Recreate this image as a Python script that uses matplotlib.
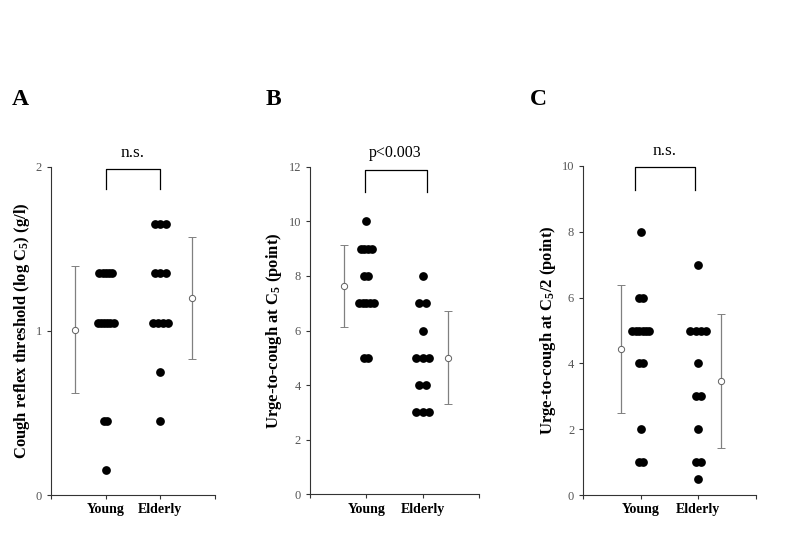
import numpy as np
import matplotlib.pyplot as plt

plt.rcParams['font.family'] = ['Liberation Serif', 'DejaVu Serif']
plt.rcParams['mathtext.fontset'] = 'custom'
plt.rcParams['mathtext.rm'] = 'Liberation Serif:bold'
plt.rcParams['mathtext.default'] = 'rm'

groups = ["Young", "Elderly"]

# panel A: cough reflex threshold, log C5 (g/l)
a_young = [1.35] * 5 + [1.05] * 6 + [0.45] * 2 + [0.15]
a_elderly = [1.65] * 3 + [1.35] * 3 + [1.05] * 4 + [0.75, 0.45]

# panel B: urge-to-cough at C5 (point)
b_young = [10] + [9] * 4 + [8] * 2 + [7] * 5 + [5] * 2
b_elderly = [8, 7, 7, 6, 5, 5, 5, 4, 4, 3, 3, 3]

# panel C: urge-to-cough at C5/2 (point)
c_young = [8, 6, 6] + [5] * 6 + [4, 4, 2, 1, 1]
c_elderly = [7, 5, 5, 5, 5, 4, 3, 3, 2, 1, 1, 0.5]

panels = [
    dict(letter="A", young=a_young, elderly=a_elderly, ymax=2, yticks=[0, 1, 2],
         ylabel="Cough reflex threshold (log C$_5$) (g/l)", note="n.s.", note_size=12.5,
         spacing=(0.058, 0.095), mean_x=(0.43, 2.57),
         bracket=(1.0, 2.0, 1.984, 1.862),
         rect=[0.065, 0.108, 0.209, 0.5915], letter_x=0.015),
    dict(letter="B", young=b_young, elderly=b_elderly, ymax=12, yticks=[0, 2, 4, 6, 8, 10, 12],
         ylabel="Urge-to-cough at C$_5$ (point)", note="p<0.003", note_size=11.5,
         spacing=(0.068, 0.12), mean_x=(0.61, 2.45),
         bracket=(0.97, 2.07, 11.9, 11.08),
         rect=[0.395, 0.1094, 0.215, 0.590], letter_x=0.338),
    dict(letter="C", young=c_young, elderly=c_elderly, ymax=10, yticks=[0, 2, 4, 6, 8, 10],
         ylabel="Urge-to-cough at C$_5$/2 (point)", note="n.s.", note_size=12.5,
         spacing=(0.06, 0.092), mean_x=(0.65, 2.40),
         bracket=(0.90, 1.94, 9.96, 9.27),
         rect=[0.743, 0.108, 0.22, 0.593], letter_x=0.675),
]


def spread(values, center, step):
    # lay equal values side by side in a row
    xs, ys = [], []
    for v in sorted(set(values), reverse=True):
        n = values.count(v)
        for i in range(n):
            xs.append(center + (i - (n - 1) / 2) * step)
            ys.append(v)
    return xs, ys


fig = plt.figure(figsize=(7.85, 5.55), dpi=100)

for p in panels:
    ax = fig.add_axes(p["rect"])
    for k, data in enumerate([p["young"], p["elderly"]]):
        xs, ys = spread(data, k + 1, p["spacing"][k])
        ax.plot(xs, ys, "o", color="black", markersize=6.3, markeredgewidth=0)
        m = np.mean(data)
        sd = np.std(data, ddof=1)
        ax.errorbar(p["mean_x"][k], m, yerr=sd, fmt="o", color="#808080",
                    mfc="white", mec="#606060", markersize=4.5, mew=0.7,
                    elinewidth=0.9, capsize=2.8, capthick=0.9)

    x1, x2, ytop, ybot = p["bracket"]
    ax.plot([x1, x1, x2, x2], [ybot, ytop, ytop, ybot], color="black", lw=0.9, clip_on=False)
    ax.text((x1 + x2) / 2, ytop + p["ymax"] * 0.025, p["note"], ha="center", va="bottom",
            fontsize=p["note_size"])

    ax.set_xlim(0, 3)
    ax.set_ylim(0, p["ymax"])
    ax.set_xticks([0, 1, 2, 3])
    ax.set_xticklabels(["", groups[0], groups[1], ""], fontweight="bold", fontsize=10)
    ax.set_yticks(p["yticks"])
    ax.tick_params(axis="y", labelsize=9, labelcolor="#555555", length=3, width=0.8,
                   color="#333333")
    ax.tick_params(axis="x", length=3, width=0.8, pad=3, color="#333333")
    for s in ["top", "right"]:
        ax.spines[s].set_visible(False)
    for s in ["left", "bottom"]:
        ax.spines[s].set_linewidth(0.8)
        ax.spines[s].set_color("#333333")
    ax.set_ylabel(p["ylabel"], fontweight="bold", fontsize=12, labelpad=3)

    fig.text(p["letter_x"], 0.82, p["letter"], fontsize=17, fontweight="bold",
             ha="left", va="center")

fig.savefig("out.png", dpi=100, facecolor="white")
